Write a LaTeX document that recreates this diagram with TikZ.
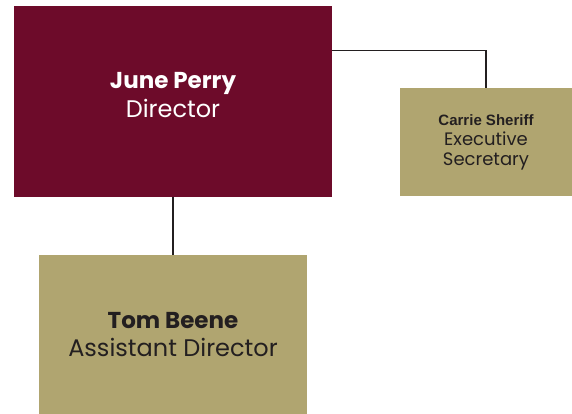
\documentclass[tikz,border=0pt]{standalone}
\usepackage{fontspec}
\setmainfont{Poppins}
\newfontfamily\arialbold{Liberation Sans}
\definecolor{maroon}{HTML}{6D0B2A}
\definecolor{khaki}{HTML}{B0A570}
\definecolor{ink}{HTML}{231F20}

\begin{document}
\begin{tikzpicture}[x=1pt, y=-1pt]
\tikzstyle{box} = [rectangle, inner sep=0pt, align=center]
\tikzstyle{head} = [box, fill=maroon, text=white]
\tikzstyle{staff} = [box, fill=khaki, text=ink]
\tikzstyle{e} = [draw=ink, line width=1.2pt]

\useasboundingbox (0,0) rectangle (572,414);

\node[head, minimum width=318pt, minimum height=190pt, text depth=14pt,
  font={\fontsize{23}{29}\selectfont}] (dir) at (173, 101.5)
  {{\bfseries June Perry}\\{\fontsize{24}{29}\selectfont Director}};
\node[staff, minimum width=172pt, minimum height=107pt,
  font={\fontsize{18}{20}\selectfont}] (sec) at (486, 142)
  {{\arialbold\bfseries\fontsize{15}{20}\selectfont Carrie Sheriff}\\Executive\\Secretary};
\node[staff, minimum width=268pt, minimum height=159pt,
  font={\fontsize{23}{28}\selectfont}] (asst) at (173, 334.5)
  {{\bfseries Tom Beene}\\{\fontsize{24}{28}\selectfont Assistant Director}};

\draw[e] ([yshift=-44pt]dir.north east) -| (sec.north);
\draw[e] (dir.south) -- (asst.north);
\end{tikzpicture}
\end{document}
